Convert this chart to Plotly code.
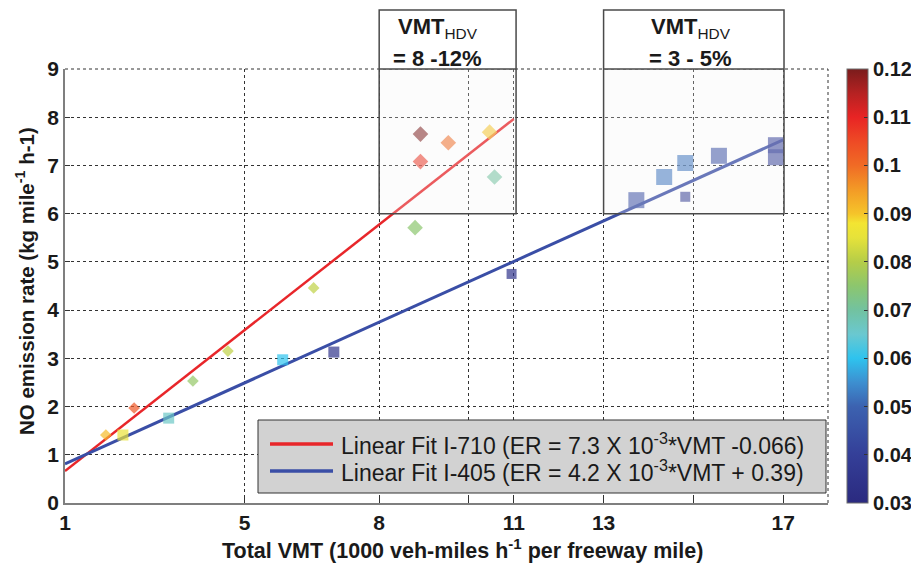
import plotly.graph_objects as go

# ---------------- data ----------------
# I-710 (diamonds)
i710_vmt = [1.91, 2.54, 3.85, 4.63, 6.54, 8.80, 8.92, 8.92, 9.54, 10.46, 10.57]
i710_er = [1.41, 1.97, 2.53, 3.15, 4.46, 5.71, 7.65, 7.08, 7.47, 7.69, 6.76]
i710_hdv = [0.091, 0.103, 0.076, 0.081, 0.081, 0.075, 0.12, 0.108, 0.10, 0.090, 0.070]
i710_size = [9, 9, 9, 9, 9, 12, 12, 12, 12, 12, 12]

# I-405 (squares)
i405_vmt = [2.29, 3.31, 5.85, 6.99, 10.95, 13.73, 14.35, 14.82, 14.82, 15.57, 16.84, 16.84]
i405_er = [1.41, 1.76, 2.97, 3.13, 4.75, 6.28, 6.76, 7.05, 6.35, 7.20, 7.42, 7.17]
i405_hdv = [0.086, 0.066, 0.060, 0.035, 0.035, 0.044, 0.052, 0.052, 0.037, 0.045, 0.040, 0.040]
i405_size = [11, 11, 11, 11, 10, 16, 16, 16, 10, 16, 16, 16]

# linear fits (slope per 1000 VMT, intercept) and x extent
fit_710 = dict(slope=0.73, intercept=-0.066, x=[1, 11])
fit_405 = dict(slope=0.42, intercept=0.39, x=[1, 17])
legend_labels = [
    "Linear Fit I-710 (ER = 7.3 X 10<sup>-3</sup>*VMT -0.066)",
    "Linear Fit I-405 (ER = 4.2 X 10<sup>-3</sup>*VMT + 0.39)",
]

x_tickvals = [1, 5, 8, 10, 11, 13, 15, 17]
x_ticktext = ["1", "5", "8", "", "11", "13", "", "17"]
y_tickvals = [0, 1, 2, 3, 4, 5, 6, 7, 8, 9]
cbar_vals = [0.03, 0.04, 0.05, 0.06, 0.07, 0.08, 0.09, 0.10, 0.11, 0.12]
cbar_text = ["0.03", "0.04", "0.05", "0.06", "0.07", "0.08", "0.09", "0.1", "0.11", "0.12"]

# highlight boxes (x extent in VMT, lower edge in ER) and labels
box_x = [[8.0, 11.05], [13.0, 17.02]]
box_y_low = 6.0
box_labels = [["<b>VMT</b><sub>HDV</sub>", "<b>= 8 -12%</b>"],
              ["<b>VMT</b><sub>HDV</sub>", "<b>= 3 - 5%</b>"]]
box_text_shift = [-10, -3]  # pixel nudge of the header text

XR = [1, 18]
YR = [0, 9]
CMIN, CMAX = 0.03, 0.12

cstops = [
    (0.030, "#2b2a7f"), (0.040, "#343f98"), (0.050, "#3c62b0"), (0.055, "#3d8fd0"),
    (0.060, "#2ec3ee"), (0.065, "#6ac8d0"), (0.070, "#72c2a0"), (0.075, "#8cc66e"),
    (0.080, "#b5cd48"), (0.085, "#e6e23a"), (0.088, "#f3e532"), (0.090, "#f5c42a"),
    (0.095, "#f39a26"), (0.100, "#f06b25"), (0.105, "#ee4a25"), (0.110, "#e82424"),
    (0.115, "#b52222"), (0.120, "#7a1c1c"),
]
colorscale = [[(v - CMIN) / (CMAX - CMIN), c] for v, c in cstops]

FONT = "Liberation Sans, Arial, Helvetica, sans-serif"

fig = go.Figure()

# fit lines
for fit, col, w in [(fit_710, "#e8262a", 2.5), (fit_405, "#3a4ea6", 3)]:
    xs = fit["x"]
    ys = [fit["slope"] * v + fit["intercept"] for v in xs]
    fig.add_trace(go.Scatter(x=xs, y=ys, mode="lines", line=dict(color=col, width=w),
                             showlegend=False, hoverinfo="skip"))

fig.add_trace(go.Scatter(
    x=i710_vmt, y=i710_er, mode="markers", name="I-710", showlegend=False,
    marker=dict(symbol="diamond", size=i710_size, color=i710_hdv, colorscale=colorscale,
                cmin=CMIN, cmax=CMAX, line=dict(width=0), showscale=False)))

fig.add_trace(go.Scatter(
    x=i405_vmt, y=i405_er, mode="markers", name="I-405", showlegend=False,
    marker=dict(symbol="square", size=i405_size, color=i405_hdv, colorscale=colorscale,
                cmin=CMIN, cmax=CMAX, line=dict(width=0), showscale=True,
                colorbar=dict(
                    x=1.0249, xanchor="left", xpad=0, y=0.5, yanchor="middle", len=1.0, ypad=0,
                    lenmode="fraction", thickness=21, outlinecolor="#6f6f6f", outlinewidth=1,
                    tickvals=cbar_vals, ticktext=cbar_text, ticks="inside", ticklen=4,
                    tickcolor="#333", tickfont=dict(family=FONT, size=20, color="#1a1a1a", weight="bold"),
                ))))

shapes = []
annotations = []

# plot area in window pixels: x 65..828, y 69..503
PW, PH = 763.0, 434.0

def px(v):
    return (v - XR[0]) / (XR[1] - XR[0])

def py(v):
    return (v - YR[0]) / (YR[1] - YR[0])

def lx(pix):
    return (pix - 65) / PW

def ly(pix):
    return (503 - pix) / PH

# dotted top/right frame
shapes.append(dict(type="line", xref="paper", yref="paper", x0=0, x1=1, y0=1, y1=1,
                   line=dict(color="#333", width=1, dash="dot"), layer="below"))
shapes.append(dict(type="line", xref="paper", yref="paper", x0=1, x1=1, y0=0, y1=1,
                   line=dict(color="#333", width=1, dash="dot"), layer="below"))

HEAD_TOP = ly(10)
for (bx0, bx1), labels, sh in zip(box_x, box_labels, box_text_shift):
    x0, x1 = px(bx0), px(bx1)
    y0 = py(box_y_low)
    shapes.append(dict(type="rect", xref="paper", yref="paper", x0=x0, x1=x1, y0=y0, y1=1,
                       fillcolor="rgba(245,245,245,0.26)", line=dict(width=0), layer="above"))
    shapes.append(dict(type="rect", xref="paper", yref="paper", x0=x0, x1=x1, y0=1, y1=HEAD_TOP,
                       fillcolor="white", line=dict(width=0), layer="above"))
    shapes.append(dict(type="rect", xref="paper", yref="paper", x0=x0, x1=x1, y0=y0, y1=HEAD_TOP,
                       fillcolor="rgba(0,0,0,0)", line=dict(color="#4a4a4a", width=1.5), layer="above"))
    shapes.append(dict(type="line", xref="paper", yref="paper", x0=x0, x1=x1, y0=1, y1=1,
                       line=dict(color="#4a4a4a", width=1.5), layer="above"))
    xc = (x0 + x1) / 2 + sh / PW
    annotations.append(dict(xref="paper", yref="paper", x=xc, y=ly(28), text=labels[0], showarrow=False,
                            xanchor="center", yanchor="middle",
                            font=dict(family=FONT, size=22, color="#1a1a1a")))
    annotations.append(dict(xref="paper", yref="paper", x=xc, y=ly(59), text=labels[1], showarrow=False,
                            xanchor="center", yanchor="middle",
                            font=dict(family=FONT, size=22, color="#1a1a1a")))

# manual legend box
shapes.append(dict(type="rect", xref="paper", yref="paper", x0=lx(258), x1=lx(826), y0=ly(493), y1=ly(420),
                   fillcolor="#d2d2d2", line=dict(color="#333", width=1), layer="above"))
for lab, col, ypix in [(legend_labels[0], "#e8262a", 444), (legend_labels[1], "#3a4ea6", 471)]:
    shapes.append(dict(type="line", xref="paper", yref="paper", x0=lx(270), x1=lx(333), y0=ly(ypix), y1=ly(ypix),
                       line=dict(color=col, width=3.5), layer="above"))
    annotations.append(dict(xref="paper", yref="paper", x=lx(339), y=ly(ypix), text=lab, showarrow=False,
                            xanchor="left", yanchor="middle",
                            font=dict(family=FONT, size=23, color="#1a1a1a")))

# axis titles
annotations.append(dict(xref="paper", yref="paper", x=lx(462), y=ly(549),
                        text="<b>Total VMT (1000 veh-miles h<sup>-1</sup> per freeway mile)</b>",
                        showarrow=False, xanchor="center", yanchor="middle",
                        font=dict(family=FONT, size=21.5, color="#1a1a1a")))
annotations.append(dict(xref="paper", yref="paper", x=lx(25), y=ly(281),
                        text="<b>NO emission rate (kg mile<sup>-1</sup> h-1)</b>", textangle=-90,
                        showarrow=False, xanchor="center", yanchor="middle",
                        font=dict(family=FONT, size=20.5, color="#1a1a1a")))

# the page adds an 8px body margin, so the figure is 8px smaller than the window
fig.update_layout(
    width=911, height=557,
    margin=dict(l=57, r=91, t=61, b=62, autoexpand=False),
    paper_bgcolor="white", plot_bgcolor="white",
    shapes=shapes, annotations=annotations,
    font=dict(family=FONT, color="#1a1a1a"),
)
fig.update_xaxes(range=XR, tickvals=x_tickvals, ticktext=x_ticktext, showgrid=True,
                 gridcolor="#333", griddash="dot", gridwidth=1, zeroline=False,
                 showline=True, linecolor="#7f7f7f", linewidth=1.5,
                 ticks="inside", ticklen=5, tickcolor="#333",
                 tickfont=dict(family=FONT, size=21, color="#1a1a1a", weight="bold"))
fig.update_yaxes(range=YR, tickvals=y_tickvals, showgrid=True,
                 gridcolor="#333", griddash="dot", gridwidth=1, zeroline=False,
                 showline=True, linecolor="#7f7f7f", linewidth=1.5,
                 ticks="inside", ticklen=5, tickcolor="#333",
                 tickfont=dict(family=FONT, size=21, color="#1a1a1a", weight="bold"))

fig.write_html("out.html")
